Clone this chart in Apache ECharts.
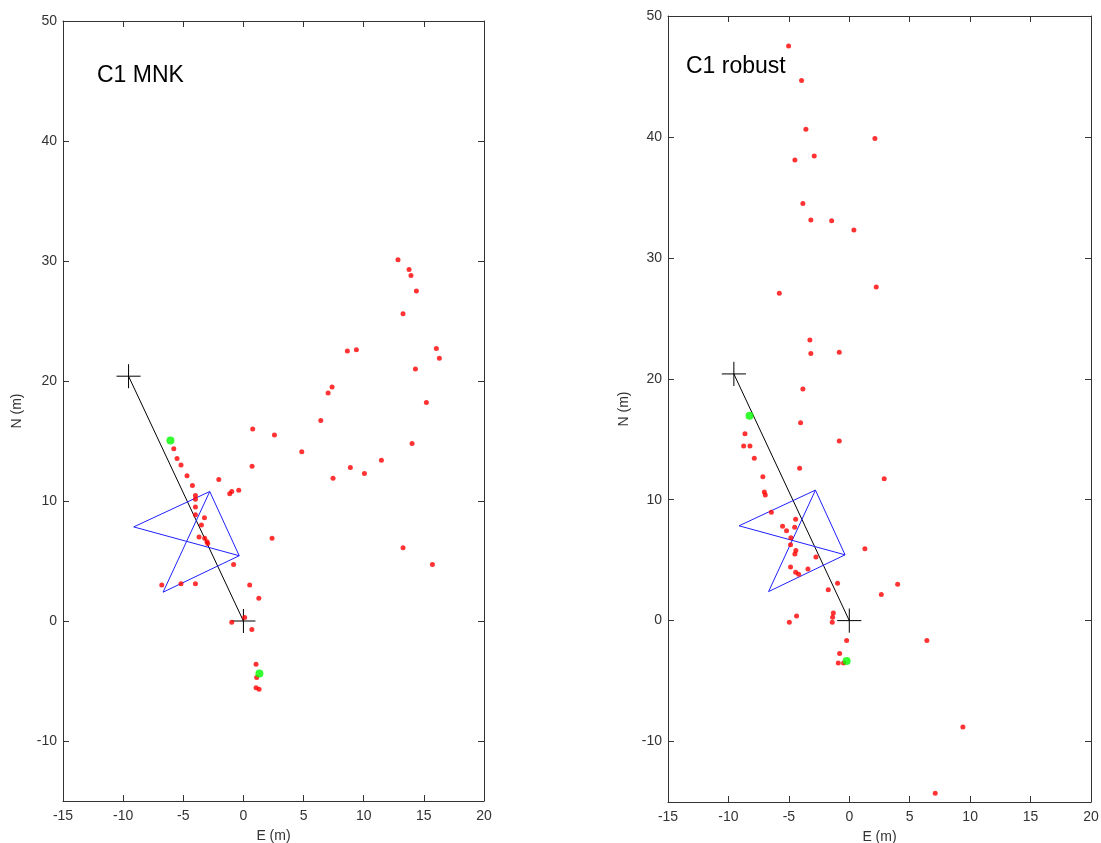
<!DOCTYPE html>
<html>
<head>
<meta charset="utf-8">
<script src="https://cdn.jsdelivr.net/npm/echarts@6/dist/echarts.min.js"></script>
<style>html,body{margin:0;padding:0;background:#fff}#c{width:1101px;height:843px}</style>
</head>
<body>
<div id="c"></div>
<script>
// ---- Data ----
const titles = ['C1 MNK', 'C1 robust'];
const xLabel = 'E (m)';
const yLabel = 'N (m)';
const xRange = [-15, 20];
const yRange = [-15, 50];

// Station crosses and the baseline between them (same in both panels)
const crossCenters = [[-9.55, 20.4], [0, 0]];
// Blue outline: polyline through the two triangle vertices
const bluePath = [[-0.35, 5.44], [-2.8, 10.79], [-9.12, 7.84], [-0.35, 5.44], [-6.68, 2.4], [-2.8, 10.79]];

// Left panel (C1 MNK) points
const mnkRed = [
  [12.85, 30.1], [13.77, 29.3], [13.93, 28.8], [14.38, 27.5], [13.27, 25.6],
  [8.64, 22.5], [9.39, 22.6], [16.04, 22.7], [16.29, 21.9], [14.30, 21.0],
  [7.37, 19.5], [7.04, 19.0], [15.21, 18.2], [6.43, 16.7], [0.77, 16.0],
  [2.58, 15.5], [14.02, 14.8], [4.85, 14.1], [11.47, 13.4], [8.89, 12.8],
  [0.72, 12.9], [10.06, 12.3], [7.45, 11.9], [-2.05, 11.8], [-0.39, 10.9],
  [-0.97, 10.8], [-1.14, 10.6], [2.38, 6.9], [13.27, 6.1], [15.71, 4.7],
  [-0.82, 4.7], [0.52, 3.0], [1.28, 1.9], [0.1, 0.3], [-0.97, -0.1],
  [0.7, -0.7], [-5.79, 14.35], [-5.52, 13.55], [-5.19, 13.0], [-4.69, 12.1],
  [-4.24, 11.3], [-3.99, 10.45], [-3.99, 10.15], [-3.99, 9.5], [-3.99, 8.85],
  [-3.24, 8.6], [-3.49, 8.0], [-3.69, 7.0], [-3.22, 6.9], [-3.03, 6.6],
  [-2.97, 6.45], [-6.79, 3.0], [-5.19, 3.1], [-3.99, 3.1], [1.05, -3.6],
  [1.1, -4.7], [1.05, -5.57], [1.3, -5.68]
];
const mnkGreen = [[-6.07, 15.05], [1.33, -4.37]];

// Right panel (C1 robust) points
const robRed = [
  [-5.02, 47.52], [-3.95, 44.66], [-3.59, 40.64], [2.12, 39.87], [-4.5, 38.1],
  [-2.9, 38.43], [-3.84, 34.5], [-3.18, 33.14], [-1.46, 33.06], [0.38, 32.31],
  [-5.79, 27.08], [2.23, 27.58], [-3.26, 23.2], [-3.18, 22.1], [-0.83, 22.2],
  [-3.84, 19.15], [-4.03, 16.36], [-8.63, 15.45], [-0.83, 14.85], [-8.74, 14.44],
  [-8.22, 14.44], [-7.86, 13.42], [-4.11, 12.6], [-7.15, 11.9], [2.89, 11.74],
  [-7.03, 10.64], [-6.95, 10.39], [-6.45, 8.96], [-4.44, 8.38], [-5.52, 7.8],
  [-4.52, 7.72], [-5.19, 7.44], [-4.83, 6.86], [-4.86, 6.28], [-4.42, 5.79],
  [-4.5, 5.51], [-2.76, 5.26], [1.29, 5.95], [-4.86, 4.44], [-4.44, 4.0],
  [-4.19, 3.83], [-3.42, 4.27], [-0.97, 3.09], [-1.74, 2.56], [4.0, 3.0],
  [2.65, 2.15], [-4.36, 0.39], [-4.96, -0.13], [-1.32, 0.64], [-1.38, 0.28],
  [-1.41, -0.13], [-0.22, -1.65], [6.42, -1.65], [-0.8, -2.72], [-0.91, -3.5],
  [-0.47, -3.5], [9.4, -8.79], [7.11, -14.27]
];
const robGreen = [[-8.25, 16.94], [-0.22, -3.33]];

// ---- Chart ----
const FONT = 'Liberation Sans, Arial, sans-serif';
const AXIS_COLOR = '#333';
const grids = [
  { left: 63, top: 21, width: 421, height: 780 },
  { left: 668, top: 16, width: 423, height: 786 }
];

const xAxes = [], yAxes = [], series = [];
grids.forEach((g, i) => {
  xAxes.push({
    type: 'value', gridIndex: i, min: xRange[0], max: xRange[1], interval: 5, position: 'bottom',
    name: xLabel, nameLocation: 'middle', nameGap: 28,
    nameTextStyle: { fontFamily: FONT, fontSize: 14, color: '#333' },
    axisLine: { show: true, onZero: false, lineStyle: { color: AXIS_COLOR, width: 1 } },
    axisTick: { show: true, inside: true, length: 6, lineStyle: { color: AXIS_COLOR } },
    axisLabel: { fontFamily: FONT, fontSize: 14, color: '#333', margin: 8 },
    splitLine: { show: false }
  });
  xAxes.push({
    type: 'value', gridIndex: i, min: xRange[0], max: xRange[1], interval: 5, position: 'top',
    axisLine: { show: true, onZero: false, lineStyle: { color: AXIS_COLOR, width: 1 } },
    axisTick: { show: true, inside: true, length: 6, lineStyle: { color: AXIS_COLOR } },
    axisLabel: { show: false }, splitLine: { show: false }
  });
  const yFmt = v => (v === yRange[0] ? '' : String(v));
  yAxes.push({
    type: 'value', gridIndex: i, min: yRange[0], max: yRange[1], splitNumber: 6,
    minInterval: 10, maxInterval: 10, position: 'left',
    name: yLabel, nameLocation: 'middle', nameGap: i === 0 ? 39 : 37,
    nameTextStyle: { fontFamily: FONT, fontSize: 14, color: '#333' },
    axisLine: { show: true, onZero: false, lineStyle: { color: AXIS_COLOR, width: 1 } },
    axisTick: { show: true, inside: true, length: 6, lineStyle: { color: AXIS_COLOR } },
    axisLabel: { fontFamily: FONT, fontSize: 14, color: '#333', margin: 6, formatter: yFmt },
    splitLine: { show: false }
  });
  yAxes.push({
    type: 'value', gridIndex: i, min: yRange[0], max: yRange[1], splitNumber: 6,
    minInterval: 10, maxInterval: 10, position: 'right',
    axisLine: { show: true, onZero: false, lineStyle: { color: AXIS_COLOR, width: 1 } },
    axisTick: { show: true, inside: true, length: 6, lineStyle: { color: AXIS_COLOR } },
    axisLabel: { show: false }, splitLine: { show: false }
  });

  const xi = i * 2, yi = i * 2;
  const lineBase = {
    type: 'line', xAxisIndex: xi, yAxisIndex: yi, symbol: 'none', silent: true,
    animation: false
  };
  // baseline between stations
  series.push(Object.assign({}, lineBase, {
    data: crossCenters, lineStyle: { color: '#000', width: 1 }, z: 2
  }));
  // crosses
  crossCenters.forEach(c => {
    series.push(Object.assign({}, lineBase, {
      data: [[c[0] - 1, c[1]], [c[0] + 1, c[1]]], lineStyle: { color: '#000', width: 1 }, z: 2
    }));
    series.push(Object.assign({}, lineBase, {
      data: [[c[0], c[1] - 1], [c[0], c[1] + 1]], lineStyle: { color: '#000', width: 1 }, z: 2
    }));
  });
  // blue triangles
  series.push(Object.assign({}, lineBase, {
    data: bluePath, lineStyle: { color: '#2020ff', width: 1 }, z: 3
  }));
  // red points
  series.push({
    type: 'scatter', xAxisIndex: xi, yAxisIndex: yi, data: i === 0 ? mnkRed : robRed,
    symbol: 'circle', symbolSize: 5, itemStyle: { color: '#ff0000' }, z: 4, animation: false
  });
  // green points
  series.push({
    type: 'scatter', xAxisIndex: xi, yAxisIndex: yi, data: i === 0 ? mnkGreen : robGreen,
    symbol: 'circle', symbolSize: 8, itemStyle: { color: '#00ff00' }, z: 5, animation: false
  });
});

const chart = echarts.init(document.getElementById('c'), null, { renderer: 'canvas' });
chart.setOption({
  backgroundColor: '#fff',
  animation: false,
  title: [
    { text: titles[0], left: 92, top: 59, textStyle: { fontFamily: FONT, fontSize: 23, fontWeight: 'normal', color: '#000' } },
    { text: titles[1], left: 681, top: 50, textStyle: { fontFamily: FONT, fontSize: 23, fontWeight: 'normal', color: '#000' } }
  ],
  grid: grids.map(g => Object.assign({ containLabel: false, outerBoundsMode: 'none' }, g)),
  xAxis: xAxes,
  yAxis: yAxes,
  series: series
});
</script>
</body>
</html>
